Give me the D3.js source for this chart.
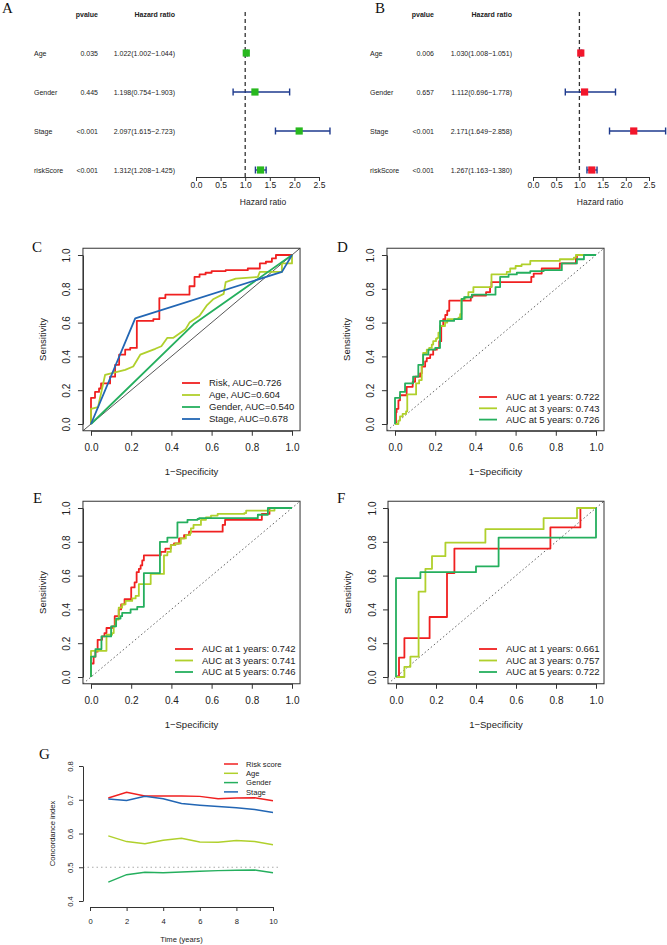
<!DOCTYPE html>
<html>
<head>
<meta charset="utf-8">
<script src="https://cdn.jsdelivr.net/npm/d3@7"></script>
<style>
  body { margin: 0; background: #fff; }
  svg { display: block; }
</style>
</head>
<body>
<svg id="fig" width="667" height="945"></svg>
<script>
// forest plots (A, B), ROC curves (C-F) and C-index over time (G)

const SANS = '"Liberation Sans", Arial, Helvetica, sans-serif';
const SERIF = '"Liberation Serif", "Times New Roman", serif';
const RED = '#F02020', YGREEN = '#B0D02C', GREEN = '#25AF5E', BLUE = '#2266B4';
const INK = '#333';

// ---- forest data ----
const forestVars = ['Age', 'Gender', 'Stage', 'riskScore'];
const uniP = ['0.035', '0.445', '<0.001', '<0.001'];
const uniHR = [1.022, 1.198, 2.097, 1.312];
const uniLow = [1.002, 0.754, 1.615, 1.208];
const uniHigh = [1.044, 1.903, 2.723, 1.425];
const multiP = ['0.006', '0.657', '<0.001', '<0.001'];
const multiHR = [1.030, 1.112, 2.171, 1.267];
const multiLow = [1.008, 0.696, 1.649, 1.163];
const multiHigh = [1.051, 1.778, 2.858, 1.380];
const hrTicks = [0, 0.5, 1, 1.5, 2, 2.5];

// ---- ROC data (false positive rate / true positive rate) ----
const rocTicks = [0, 0.2, 0.4, 0.6, 0.8, 1];
// C: risk vs clinical
const riskC_fpr = [0,0,0.02,0.04,0.05,0.095,0.12,0.14,0.17,0.195,0.228,0.31,0.34,0.37,0.49,0.515,0.54,0.57,0.6,0.67,0.78,0.84,0.87,0.9,0.92,1];
const riskC_tpr = [0,0.155,0.19,0.21,0.24,0.28,0.35,0.41,0.44,0.45,0.61,0.62,0.745,0.765,0.815,0.87,0.885,0.895,0.905,0.91,0.92,0.95,0.96,0.98,1,1];
const ageC_fpr = [0,0,0.035,0.07,0.1,0.17,0.21,0.245,0.32,0.35,0.38,0.41,0.47,0.49,0.54,0.575,0.61,0.66,0.67,0.72,0.83,0.84,0.95,0.95,1,1];
const ageC_tpr = [0,0.09,0.1,0.29,0.3,0.32,0.34,0.41,0.445,0.46,0.51,0.51,0.56,0.6,0.64,0.7,0.74,0.77,0.84,0.86,0.87,0.9,0.9,0.95,0.95,1];
const genderC_fpr = [0, 0.51, 1];
const genderC_tpr = [0, 0.59, 1];
const stageC_fpr = [0, 0.22, 0.95, 1];
const stageC_tpr = [0, 0.625, 0.9, 1];
const legendC = ['Risk, AUC=0.726', 'Age, AUC=0.604', 'Gender, AUC=0.540', 'Stage, AUC=0.678'];

// D
const d1_fpr = [0,0.005,0.008,0.017,0.025,0.058,0.088,0.1,0.125,0.133,0.15,0.158,0.175,0.19,0.208,0.22,0.23,0.24,0.25,0.26,0.27,0.377,0.385,0.453,0.473,0.48,0.678,0.69,0.73,0.82,0.9,0.905,1];
const d1_tpr = [0,0.07,0.09,0.14,0.17,0.22,0.25,0.28,0.3,0.34,0.37,0.39,0.41,0.44,0.45,0.49,0.58,0.62,0.645,0.67,0.73,0.75,0.76,0.78,0.81,0.84,0.87,0.89,0.92,0.95,0.98,1,1];
const d3_fpr = [0,0.017,0.025,0.038,0.055,0.061,0.105,0.12,0.133,0.14,0.158,0.17,0.183,0.19,0.204,0.21,0.216,0.224,0.249,0.26,0.316,0.324,0.33,0.35,0.365,0.39,0.48,0.556,0.573,0.6,0.63,0.673,0.82,0.89,0.9,1];
const d3_tpr = [0,0.02,0.045,0.06,0.075,0.175,0.24,0.26,0.35,0.42,0.44,0.45,0.47,0.49,0.505,0.51,0.54,0.58,0.6,0.62,0.63,0.65,0.74,0.75,0.78,0.81,0.885,0.9,0.92,0.935,0.945,0.965,0.975,0.985,1,1];
const d5_fpr = [0,0,0.025,0.05,0.09,0.116,0.14,0.166,0.2,0.224,0.294,0.332,0.344,0.382,0.5,0.523,0.565,0.606,0.673,0.74,0.83,0.905,0.94,1];
const d5_tpr = [0,0.155,0.19,0.24,0.28,0.35,0.41,0.44,0.45,0.61,0.62,0.74,0.75,0.765,0.81,0.87,0.885,0.895,0.905,0.91,0.95,0.975,1,1];
const legendD = ['AUC at 1 years: 0.722', 'AUC at 3 years: 0.743', 'AUC at 5 years: 0.726'];

// E
const e1_fpr = [0,0,0.013,0.022,0.033,0.055,0.067,0.077,0.105,0.118,0.138,0.15,0.167,0.2,0.217,0.227,0.238,0.247,0.255,0.263,0.347,0.37,0.397,0.413,0.438,0.463,0.488,0.655,0.667,0.85,0.888,1];
const e1_tpr = [0,0.08,0.12,0.15,0.22,0.24,0.26,0.29,0.3,0.36,0.4,0.43,0.46,0.53,0.56,0.62,0.64,0.66,0.69,0.72,0.74,0.76,0.78,0.79,0.82,0.84,0.86,0.9,0.93,0.965,1,1];
const e3_fpr = [0,0,0.077,0.105,0.113,0.122,0.138,0.155,0.172,0.205,0.222,0.238,0.297,0.363,0.38,0.397,0.42,0.447,0.472,0.493,0.497,0.51,0.547,0.572,0.597,0.63,0.763,0.772,0.913,1];
const e3_tpr = [0,0.155,0.25,0.26,0.3,0.34,0.41,0.43,0.45,0.465,0.48,0.55,0.61,0.72,0.74,0.78,0.79,0.82,0.84,0.85,0.88,0.9,0.93,0.945,0.955,0.965,0.97,0.985,1,1];
const e5_fpr = [0,0,0.022,0.052,0.1,0.125,0.147,0.155,0.197,0.23,0.263,0.343,0.38,0.43,0.48,0.53,0.538,0.83,0.88,1];
const e5_tpr = [0,0.12,0.165,0.24,0.3,0.346,0.36,0.38,0.4,0.415,0.615,0.8,0.825,0.915,0.93,0.935,0.94,0.96,1,1];
const legendE = ['AUC at 1 years: 0.742', 'AUC at 3 years: 0.741', 'AUC at 5 years: 0.746'];

// F
const f1_fpr = [0,0.015,0.042,0.168,0.255,0.292,0.772,0.922,1];
const f1_tpr = [0,0.115,0.23,0.355,0.615,0.76,0.885,1,1];
const f3_fpr = [0,0.042,0.072,0.113,0.147,0.18,0.247,0.447,0.738,0.905,1];
const f3_tpr = [0,0.06,0.12,0.505,0.64,0.715,0.795,0.875,0.94,1,1];
const f5_fpr = [0,0,0.122,0.4,0.513,1];
const f5_tpr = [0,0.585,0.62,0.655,0.825,1];
const legendF = ['AUC at 1 years: 0.661', 'AUC at 3 years: 0.757', 'AUC at 5 years: 0.722'];

// ---- G: concordance index by year ----
const years = [1,2,3,4,5,6,7,8,9,10];
const cRisk = [0.705,0.722,0.711,0.711,0.711,0.710,0.703,0.705,0.706,0.697];
const cAge = [0.593,0.576,0.570,0.580,0.586,0.575,0.574,0.579,0.576,0.567];
const cGender = [0.456,0.478,0.485,0.484,0.486,0.488,0.490,0.491,0.492,0.484];
const cStage = [0.702,0.698,0.710,0.703,0.689,0.684,0.680,0.676,0.671,0.662];
const cNames = ['Risk score', 'Age', 'Gender', 'Stage'];
const cTicksY = [0.4, 0.5, 0.6, 0.7, 0.8];
const cTicksX = [0, 2, 4, 6, 8, 10];

const svg = d3.select('#fig');
svg.append('rect').attr('width', 667).attr('height', 945).attr('fill', '#fff');

const pts = (a, b) => a.map((v, i) => [v, b[i]]);

function styleAxis(g, fs) {
  g.attr('font-family', SANS).attr('font-size', fs);
  g.select('.domain').attr('stroke', INK);
  g.selectAll('.tick line').attr('stroke', INK);
  g.selectAll('.tick text').attr('fill', '#222');
}

function letter(txt, x, y) {
  svg.append('text').attr('x', x).attr('y', y).text(txt)
    .attr('font-family', SERIF).attr('font-size', 15).attr('fill', '#111');
}

// ---------- forest plot ----------
function forest(o) {
  const g = svg.append('g');
  const x = d3.scaleLinear().domain([0, 2.5]).range([o.x0, o.x1]);
  const y = d3.scalePoint().domain(forestVars).range([53, 170]);
  const txt = (t, xx, yy, anchor, bold) => g.append('text')
    .attr('x', xx).attr('y', yy).attr('text-anchor', anchor).text(t)
    .attr('font-family', SANS).attr('font-size', 7).attr('fill', '#222')
    .attr('font-weight', bold ? 'bold' : null);

  txt('pvalue', o.pX, 17, 'end', true);
  txt('Hazard ratio', o.hrX, 17, 'end', true);
  forestVars.forEach((v, i) => {
    const yy = y(v) + 2.5;
    txt(v, o.labelX, yy, 'start');
    txt(o.p[i], o.pX, yy, 'end');
    txt(o.hr[i].toFixed(3) + '(' + o.low[i].toFixed(3) + '\u2212' + o.high[i].toFixed(3) + ')', o.hrX, yy, 'end');
  });

  g.append('line').attr('x1', x(1)).attr('x2', x(1)).attr('y1', 12).attr('y2', 180)
    .attr('stroke', INK).attr('stroke-width', 1.3).attr('stroke-dasharray', '4,3');

  const bars = g.selectAll('g.bar').data(forestVars).join('g').attr('class', 'bar');
  bars.append('line')
    .attr('x1', (d, i) => x(o.low[i])).attr('x2', (d, i) => x(o.high[i]))
    .attr('y1', d => y(d)).attr('y2', d => y(d))
    .attr('stroke', '#1E3A8E').attr('stroke-width', 1.4);
  ['low', 'high'].forEach(k => {
    bars.append('line')
      .attr('x1', (d, i) => x(o[k][i])).attr('x2', (d, i) => x(o[k][i]))
      .attr('y1', d => y(d) - 3.5).attr('y2', d => y(d) + 3.5)
      .attr('stroke', '#1E3A8E').attr('stroke-width', 1.4);
  });
  bars.append('rect')
    .attr('x', (d, i) => x(o.hr[i]) - 3.6).attr('y', d => y(d) - 3.6)
    .attr('width', 7.2).attr('height', 7.2).attr('fill', o.color);

  const ax = g.append('g').attr('transform', 'translate(0,177)')
    .call(d3.axisBottom(x).tickValues(hrTicks).tickFormat(d3.format('.1f')).tickSize(4).tickSizeOuter(0));
  styleAxis(ax, 8.5);
  ax.selectAll('.tick text').attr('y', 8.5).attr('dy', '0.35em');

  g.append('text').attr('x', o.xlabX).attr('y', 205).attr('text-anchor', 'middle')
    .text('Hazard ratio').attr('font-family', SANS).attr('font-size', 8.5).attr('fill', '#222');
}

forest({ x0: 196, x1: 319, labelX: 34, pX: 98, hrX: 175, xlabX: 263,
  p: uniP, hr: uniHR, low: uniLow, high: uniHigh, color: '#28B81E' });
forest({ x0: 533, x1: 649, labelX: 370, pX: 434, hrX: 512, xlabX: 600,
  p: multiP, hr: multiHR, low: multiLow, high: multiHigh, color: '#F2162B' });
letter('A', 2, 13);
letter('B', 375, 13);

// ---------- ROC panels ----------
function roc(o) {
  const g = svg.append('g');
  const x = d3.scaleLinear().domain([0, 1]).range([o.x0, o.x1]);
  const y = d3.scaleLinear().domain([0, 1]).range([o.y0, o.y1]);
  const bx0 = x(-0.04), bx1 = x(1.04), by0 = y(-0.04), by1 = y(1.04);

  const clipId = 'clip' + o.id;
  g.append('clipPath').attr('id', clipId).append('rect')
    .attr('x', bx0).attr('y', by1).attr('width', bx1 - bx0).attr('height', by0 - by1);

  const diag = g.append('line').attr('clip-path', `url(#${clipId})`)
    .attr('x1', bx0).attr('y1', by0).attr('x2', bx1).attr('y2', by1);
  if (o.solidDiag) diag.attr('stroke', '#444').attr('stroke-width', 0.9);
  else diag.attr('stroke', '#666').attr('stroke-width', 1).attr('stroke-dasharray', '1.6,2.4');

  o.curves.forEach(c => {
    const line = d3.line().x(d => x(d[0])).y(d => y(d[1]))
      .curve(c.step ? d3.curveStepAfter : d3.curveLinear);
    g.append('path').datum(pts(c.fpr, c.tpr)).attr('d', line)
      .attr('fill', 'none').attr('stroke', c.color).attr('stroke-width', 1.8)
      .attr('stroke-linejoin', 'round');
  });

  g.append('rect').attr('x', bx0).attr('y', by1).attr('width', bx1 - bx0).attr('height', by0 - by1)
    .attr('fill', 'none').attr('stroke', INK).attr('stroke-width', 1);

  const ya = g.append('g').attr('transform', `translate(${bx0},0)`)
    .call(d3.axisLeft(y).tickValues(rocTicks).tickFormat(d3.format('.1f')).tickSize(5).tickSizeOuter(0));
  styleAxis(ya, 10);
  ya.selectAll('.tick text').attr('x', 0).attr('dy', '0.35em').attr('text-anchor', 'middle')
    .attr('transform', 'translate(-16,0) rotate(-90)');

  const xa = g.append('g').attr('transform', `translate(0,${by0})`)
    .call(d3.axisBottom(x).tickValues(rocTicks).tickFormat(d3.format('.1f')).tickSize(5).tickSizeOuter(0));
  styleAxis(xa, 10);
  xa.selectAll('.tick text').attr('y', 16.5).attr('dy', '0.35em');

  g.append('text').attr('transform', `translate(${bx0 - 40},${(o.y0 + o.y1) / 2}) rotate(-90)`)
    .attr('dy', '0.35em').attr('text-anchor', 'middle').text('Sensitivity')
    .attr('font-family', SANS).attr('font-size', 9.5).attr('fill', '#222');
  g.append('text').attr('x', (o.x0 + o.x1) / 2).attr('y', by0 + 41).attr('dy', '0.35em')
    .attr('text-anchor', 'middle').text('1\u2212Specificity')
    .attr('font-family', SANS).attr('font-size', 9.5).attr('fill', '#222');

  // legend
  const lg = g.append('g');
  o.legend.forEach((t, i) => {
    const yy = o.ly + i * o.ldy;
    lg.append('line').attr('x1', o.lx).attr('x2', o.lx + 18).attr('y1', yy).attr('y2', yy)
      .attr('stroke', o.curves[i].color).attr('stroke-width', 1.8);
    lg.append('text').attr('x', o.lx + 27).attr('y', yy).attr('dy', '0.35em').text(t)
      .attr('font-family', SANS).attr('font-size', o.lfs).attr('fill', '#222');
  });
}

roc({ id: 'C', x0: 91, x1: 292, y0: 424, y1: 255, solidDiag: true,
  curves: [
    { fpr: riskC_fpr, tpr: riskC_tpr, color: RED, step: true },
    { fpr: ageC_fpr, tpr: ageC_tpr, color: YGREEN },
    { fpr: genderC_fpr, tpr: genderC_tpr, color: GREEN },
    { fpr: stageC_fpr, tpr: stageC_tpr, color: BLUE }
  ],
  legend: legendC, lx: 182, ly: 383, ldy: 12, lfs: 9.5 });
roc({ id: 'D', x0: 395, x1: 596, y0: 424, y1: 255,
  curves: [
    { fpr: d1_fpr, tpr: d1_tpr, color: RED, step: true },
    { fpr: d3_fpr, tpr: d3_tpr, color: YGREEN, step: true },
    { fpr: d5_fpr, tpr: d5_tpr, color: GREEN, step: true }
  ],
  legend: legendD, lx: 479, ly: 397, ldy: 11.3, lfs: 9.5 });
roc({ id: 'E', x0: 91, x1: 292, y0: 677, y1: 508,
  curves: [
    { fpr: e1_fpr, tpr: e1_tpr, color: RED, step: true },
    { fpr: e3_fpr, tpr: e3_tpr, color: YGREEN, step: true },
    { fpr: e5_fpr, tpr: e5_tpr, color: GREEN, step: true }
  ],
  legend: legendE, lx: 175, ly: 649, ldy: 11.5, lfs: 9.5 });
roc({ id: 'F', x0: 396, x1: 596, y0: 677, y1: 508,
  curves: [
    { fpr: f1_fpr, tpr: f1_tpr, color: RED, step: true },
    { fpr: f3_fpr, tpr: f3_tpr, color: YGREEN, step: true },
    { fpr: f5_fpr, tpr: f5_tpr, color: GREEN, step: true }
  ],
  legend: legendF, lx: 479, ly: 649, ldy: 11.5, lfs: 9.5 });
letter('C', 32, 252);
letter('D', 337, 252);
letter('E', 33, 503);
letter('F', 337, 503);

// ---------- G: C-index ----------
(function () {
  const g = svg.append('g');
  const x = d3.scaleLinear().domain([0, 10]).range([90, 273]);
  const y = d3.scaleLinear().domain([0.4, 0.8]).range([901, 766]);

  g.append('line').attr('x1', 83).attr('x2', 280).attr('y1', y(0.5)).attr('y2', y(0.5))
    .attr('stroke', '#aaa').attr('stroke-width', 1.2).attr('stroke-dasharray', '1.5,3');

  const series = [cRisk, cAge, cGender, cStage];
  const cols = [RED, YGREEN, GREEN, BLUE];
  const line = d3.line().x((d, i) => x(years[i])).y(d => y(d));
  series.forEach((s, k) => {
    g.append('path').datum(s).attr('d', line).attr('fill', 'none')
      .attr('stroke', cols[k]).attr('stroke-width', 1.5);
  });

  const ya = g.append('g').attr('transform', 'translate(83,0)')
    .call(d3.axisLeft(y).tickValues(cTicksY).tickFormat(d3.format('.1f')).tickSize(4).tickSizeOuter(0));
  styleAxis(ya, 7.6);
  ya.selectAll('.tick text').attr('x', 0).attr('dy', '0.35em').attr('text-anchor', 'middle')
    .attr('transform', 'translate(-13,0) rotate(-90)');

  const xa = g.append('g').attr('transform', 'translate(0,907)')
    .call(d3.axisBottom(x).tickValues(cTicksX).tickSize(4).tickSizeOuter(0));
  styleAxis(xa, 7.6);
  xa.selectAll('.tick text').attr('y', 14).attr('dy', '0.35em');

  g.append('text').attr('transform', `translate(52,${y(0.6)}) rotate(-90)`)
    .attr('dy', '0.35em').attr('text-anchor', 'middle').text('Concordance index')
    .attr('font-family', SANS).attr('font-size', 7.6).attr('fill', '#222');
  g.append('text').attr('x', x(5)).attr('y', 939).attr('dy', '0.35em').attr('text-anchor', 'middle')
    .text('Time (years)').attr('font-family', SANS).attr('font-size', 7.6).attr('fill', '#222');

  cNames.forEach((t, i) => {
    const yy = 764 + i * 9.3;
    g.append('line').attr('x1', 224).attr('x2', 238).attr('y1', yy).attr('y2', yy)
      .attr('stroke', cols[i]).attr('stroke-width', 1.5);
    g.append('text').attr('x', 246).attr('y', yy).attr('dy', '0.35em').text(t)
      .attr('font-family', SANS).attr('font-size', 7.6).attr('fill', '#222');
  });
})();
letter('G', 39, 759);
</script>
</body>
</html>
